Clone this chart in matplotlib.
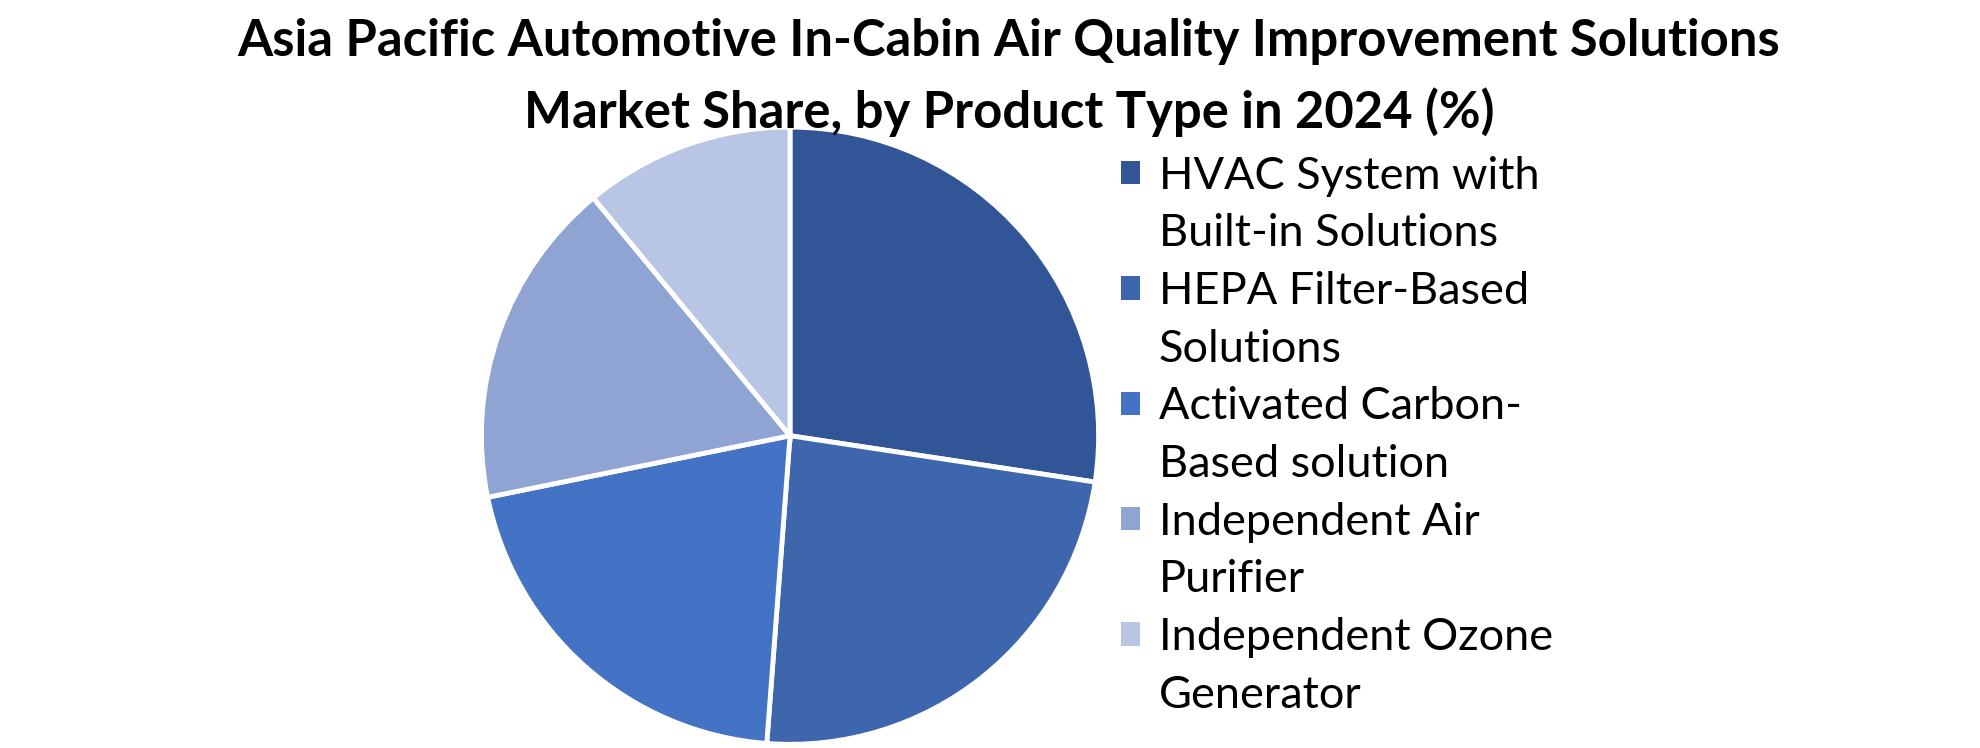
import matplotlib.pyplot as plt
from matplotlib.patches import Patch

# data (percent share, 2024)
labels = ['HVAC System with\nBuilt-in Solutions',
          'HEPA Filter-Based\nSolutions',
          'Activated Carbon-\nBased solution',
          'Independent Air\nPurifier',
          'Independent Ozone\nGenerator']
shares = [27.4, 23.8, 20.6, 17.2, 11.0]
colors = ['#315597', '#3D66AD', '#4472C4', '#8FA4D3', '#B9C5E4']

title = ('Asia Pacific Automotive In-Cabin Air Quality Improvement Solutions\n'
         'Market Share, by Product Type in 2024 (%)')

plt.rcParams['font.family'] = ['Lato', 'DejaVu Sans']

fig = plt.figure(figsize=(19.8, 7.48), dpi=100)
ax = fig.add_axes([0.2447, 0.009, 0.3086, 0.817])

wedges, _ = ax.pie(shares, colors=colors, startangle=90, counterclock=False,
                   radius=1, wedgeprops=dict(edgecolor='white', linewidth=3.5))
ax.set_xlim(-0.99, 0.99)
ax.set_ylim(-0.99, 0.99)
ax.set_aspect('equal')
ax.axis('off')

fig.text(0.5096, 0.897, title, ha='center', va='center', fontsize=36.5,
         fontweight='bold', linespacing=1.55)

# legend: one row per text line, marker only on the first line of each entry
handles, rows = [], []
for lab, c in zip(labels, colors):
    parts = lab.split('\n')
    handles.append(Patch(facecolor=c, edgecolor='none'))
    rows.append(parts[0])
    for p in parts[1:]:
        handles.append(Patch(facecolor='none', edgecolor='none'))
        rows.append(p)

leg = fig.legend(handles, rows, loc='upper left',
                 bbox_to_anchor=(0.5662, 0.792), frameon=False,
                 fontsize=32.5, handlelength=0.42, handleheight=0.42,
                 handletextpad=0.42, labelspacing=0.37, borderaxespad=0,
                 borderpad=0)

plt.savefig('out.png', dpi=100)
